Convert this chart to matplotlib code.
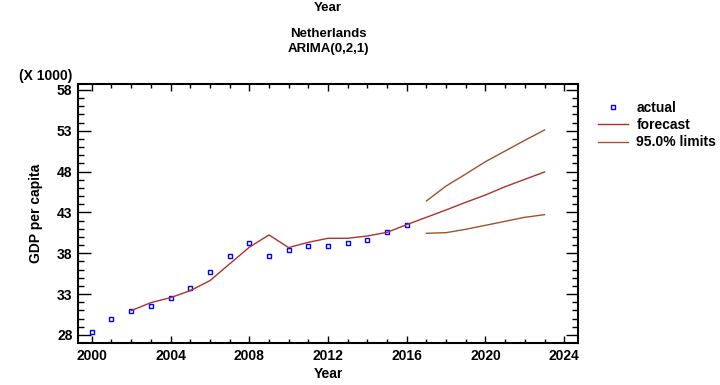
import numpy as np
import matplotlib.pyplot as plt
from matplotlib.ticker import MultipleLocator

plt.rcParams['font.family'] = ['Liberation Sans', 'DejaVu Sans']
plt.rcParams['font.weight'] = 'bold'

# GDP per capita (thousands), Netherlands
years_actual = np.arange(2000, 2017)
actual = [28.33, 30.0, 30.98, 31.6, 32.5, 33.76, 35.76, 37.72, 39.31, 37.72,
          38.41, 38.94, 38.94, 39.22, 39.67, 40.57, 41.51]

# one-step fitted values and forecasts
years_fc = np.arange(2002, 2024)
forecast = [30.98, 31.96, 32.57, 33.43, 34.65, 36.7, 38.74, 40.25, 38.7, 39.35,
            39.84, 39.84, 40.12, 40.57, 41.51, 42.41, 43.31, 44.25, 45.14, 46.16,
            47.06, 47.96]

# 95% limits for the forecast period
years_lim = np.arange(2017, 2024)
upper = [44.41, 46.24, 47.71, 49.22, 50.53, 51.84, 53.1]
lower = [40.45, 40.53, 40.94, 41.43, 41.92, 42.41, 42.73]

fig = plt.figure(figsize=(7.2, 3.85), dpi=100)
ax = fig.add_axes([78 / 720, 1 - 343 / 385, 500 / 720, 259 / 385])

ax.plot(years_actual, actual, linestyle='none', marker='s', markersize=3.5,
        markerfacecolor='none', markeredgecolor='#0000ff', markeredgewidth=1.0,
        label='actual')
ax.plot(years_fc, forecast, color='#b03030', linewidth=1.0, label='forecast')
ax.plot(years_lim, upper, color='#a0522d', linewidth=1.0, label='95.0% limits')
ax.plot(years_lim, lower, color='#a0522d', linewidth=1.0)

ax.set_xlim(1999.3, 2024.7)
ax.set_ylim(27.02, 58.73)
ax.xaxis.set_minor_locator(MultipleLocator(1))
ax.yaxis.set_minor_locator(MultipleLocator(1))
ax.set_xticks(np.arange(2000, 2025, 4))
ax.set_yticks(np.arange(28, 59, 5))

ax.tick_params(axis='both', which='both', direction='in', top=True, right=True,
               labelsize=10, width=1.0, colors='black')
ax.tick_params(axis='y', which='major', length=9, pad=4)
ax.tick_params(axis='y', which='minor', length=4)
ax.tick_params(axis='x', which='major', length=5, pad=4)
ax.tick_params(axis='x', which='minor', length=3)
for lab in ax.get_xticklabels() + ax.get_yticklabels():
    lab.set_fontweight('bold')
for sp in ax.spines.values():
    sp.set_linewidth(1.5)

ax.set_xlabel('Year', fontsize=10, fontweight='bold', labelpad=3)
ax.set_ylabel('GDP per capita', fontsize=10, fontweight='bold', labelpad=10)

fig.text(328 / 720, 1 - 8 / 385, 'Year', ha='center', va='center',
         fontsize=9.5, fontweight='bold')
fig.text(328 / 720, 1 - 34 / 385, 'Netherlands', ha='center', va='center',
         fontsize=9.5, fontweight='bold')
fig.text(328 / 720, 1 - 49 / 385, 'ARIMA(0,2,1)', ha='center', va='center',
         fontsize=9.5, fontweight='bold')
fig.text(72 / 720, 1 - 76 / 385, '(X 1000)', ha='right', va='center',
         fontsize=10, fontweight='bold')

ax.legend(loc='upper left', bbox_to_anchor=(592 / 720, 1 - 95 / 385),
          bbox_transform=fig.transFigure, frameon=False,
          handlelength=2.2, handletextpad=0.6, labelspacing=0.25,
          borderaxespad=0.0, prop={'weight': 'bold', 'size': 10})

fig.savefig('out.png', dpi=100)
